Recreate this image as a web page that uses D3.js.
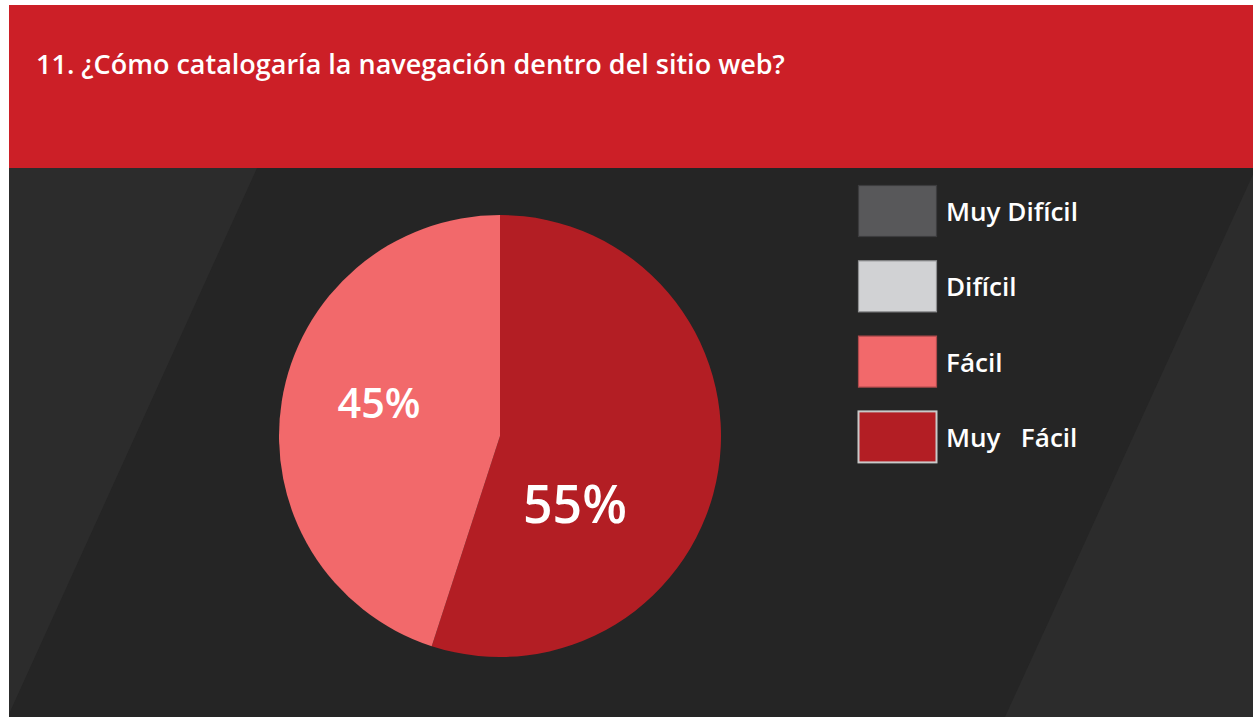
<!DOCTYPE html>
<html>
<head>
<meta charset="utf-8">
<script src="https://cdn.jsdelivr.net/npm/d3@7"></script>
<style>
  html, body { margin: 0; padding: 0; background: #ffffff; }
  svg { display: block; }
  text { font-family: "Open Sans", "Noto Sans", sans-serif; font-weight: 600; fill: #ffffff; }
</style>
</head>
<body>
<svg id="chart" width="1253" height="717"></svg>
<script>
// Survey question and answers
const title = "11. ¿Cómo catalogaría la navegación dentro del sitio web?";
const categories = ["Muy Difícil", "Difícil", "Fácil", "Muy   Fácil"];
const values = [0, 0, 45, 55];
const colors = ["#58585a", "#d1d2d4", "#f2696b", "#b31e24"];
const borderColors = ["#3c3c3e", "#8e8f91", "#b04a4c", "#c9c9c9"];

const W = 1253, H = 717;
const svg = d3.select("#chart");

// Panel: red header band and dark body with two lighter diagonal panes
const panelLeft = 9, panelTop = 5, headerBottom = 168;
svg.append("rect").attr("x", panelLeft).attr("y", panelTop).attr("width", W - panelLeft).attr("height", headerBottom - panelTop).attr("fill", "#cc1f27");
svg.append("rect").attr("x", panelLeft).attr("y", headerBottom).attr("width", W - panelLeft).attr("height", H - headerBottom).attr("fill", "#252525");
const line = d3.line();
svg.append("path").attr("d", line([[panelLeft, headerBottom], [257, headerBottom], [panelLeft, 714]]) + "Z").attr("fill", "#2c2c2c");
svg.append("path").attr("d", line([[1256, headerBottom], [W, headerBottom], [W, H], [1005, H]]) + "Z").attr("fill", "#2c2c2c");

// Fit a text element's font size so that it spans the given width
function fitText(sel, targetWidth) {
  const node = sel.node();
  const fs = parseFloat(sel.attr("font-size"));
  const w = node.getComputedTextLength();
  sel.attr("font-size", (fs * targetWidth / w).toFixed(2));
}

// Title
const titleText = svg.append("text").attr("x", 36).attr("y", 74).attr("font-size", 24).text(title);
fitText(titleText, 749);

// Pie, starting at 12 o'clock and running clockwise from "Muy Fácil"
const cx = 500, cy = 436, radius = 221;
const order = [3, 2, 1, 0];
const pieData = d3.pie().sort(null).value(i => values[i])(order).filter(d => d.value > 0);
const arc = d3.arc().innerRadius(0).outerRadius(radius);
const g = svg.append("g").attr("transform", `translate(${cx},${cy})`);
g.selectAll("path.slice").data(pieData).enter().append("path")
  .attr("class", "slice")
  .attr("d", arc)
  .attr("fill", d => colors[d.data]);

// Percent labels, placed by polar offset inside each slice
const labelPlace = { 2: { angle: 285.9, r: 125.8, width: 83 }, 3: { angle: 131.8, r: 100.6, width: 104 } };
g.selectAll("text.pct").data(pieData).enter().append("text")
  .attr("class", "pct")
  .attr("text-anchor", "middle")
  .attr("dominant-baseline", "central")
  .attr("font-size", 30)
  .attr("x", d => Math.sin(labelPlace[d.data].angle * Math.PI / 180) * labelPlace[d.data].r)
  .attr("y", d => -Math.cos(labelPlace[d.data].angle * Math.PI / 180) * labelPlace[d.data].r)
  .text(d => d3.format(".0f")(values[d.data]) + "%")
  .each(function (d) { fitText(d3.select(this), labelPlace[d.data].width); });

// Legend
const lg = svg.append("g");
const item = lg.selectAll("g").data(categories).enter().append("g")
  .attr("transform", (d, i) => `translate(858,${185 + i * 75.3})`);
item.append("rect")
  .attr("x", 0.5).attr("y", 0.5)
  .attr("width", 78).attr("height", 51)
  .attr("fill", (d, i) => colors[i])
  .attr("stroke", (d, i) => borderColors[i])
  .attr("stroke-width", (d, i) => i === 3 ? 2 : 1.2);
item.append("text")
  .attr("x", 88).attr("y", 36)
  .attr("font-size", 24)
  .attr("xml:space", "preserve")
  .style("white-space", "pre")
  .text(d => d);
// Scale legend labels from the first label's width
const firstLabel = item.select("text").filter((d, i) => i === 0);
const fw = firstLabel.node().getComputedTextLength();
item.selectAll("text").attr("font-size", (24 * 132 / fw).toFixed(2));
</script>
</body>
</html>
